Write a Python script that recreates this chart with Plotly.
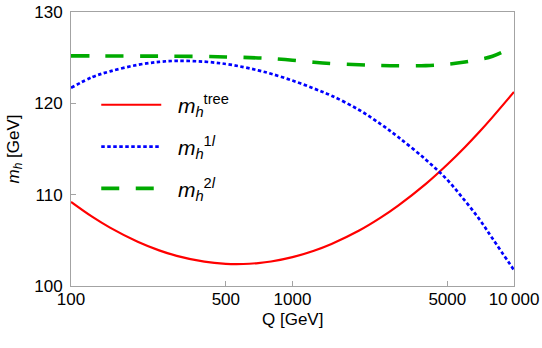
import plotly.graph_objects as go

Q = [100, 125, 150, 200, 250, 300, 400, 500, 600, 700, 800, 1000, 1250, 1500,
     2000, 2500, 3000, 4000, 5000, 6000, 7000, 8000, 10000]
m_tree = [109.21, 107.56, 106.39, 104.84, 103.90, 103.30, 102.66, 102.43, 102.41,
          102.51, 102.68, 103.16, 103.86, 104.60, 106.07, 107.48, 108.80, 111.18,
          113.30, 115.19, 116.91, 118.49, 121.25]
m_1l = [121.70, 122.88, 123.50, 124.21, 124.54, 124.65, 124.56, 124.31, 123.97,
        123.61, 123.24, 122.49, 121.62, 120.84, 119.27, 117.73, 116.31, 113.83,
        111.62, 109.34, 107.27, 105.19, 101.75]
m_2l = [125.20, 125.19, 125.18, 125.17, 125.17, 125.16, 125.13, 125.08, 125.03,
        124.97, 124.91, 124.72, 124.50, 124.36, 124.22, 124.14, 124.11, 124.13,
        124.28, 124.52, 124.82, 125.15, 126.25]

x_tickvals = [100, 500, 1000, 5000, 10000]
x_ticktext = ["100", "500", "1000", "5000", "10\u2009000"]
y_tickvals = [100, 110, 120, 130]
x_title = "Q [GeV]"
y_title = "<i>m</i><sub><i>h</i></sub> [GeV]"

FONT = "Liberation Sans, Arial, sans-serif"
FRAME = "#a3a3a3"
PAD = "\u00a0\u00a0"

fig = go.Figure()
fig.add_trace(go.Scatter(x=Q, y=m_tree, mode="lines", line_shape="spline",
                         name=PAD + "<i>m</i><sub><i>h</i></sub><sup>tree</sup>",
                         line=dict(color="#ff0000", width=2.2), legendgroup="a"))
fig.add_trace(go.Scatter(x=Q, y=m_1l, mode="lines", line_shape="spline",
                         name=PAD + "<i>m</i><sub><i>h</i></sub><sup>1<i>l</i></sup>",
                         line=dict(color="#0000ff", width=2.7, dash="3.5px,2.5px"),
                         legendgroup="b"))
fig.add_trace(go.Scatter(x=Q, y=m_2l, mode="lines", line_shape="spline",
                         name=PAD + "<i>m</i><sub><i>h</i></sub><sup>2<i>l</i></sup>",
                         line=dict(color="#00aa00", width=3.6, dash="18px,16.5px"),
                         legendgroup="c"))

fig.update_layout(
    width=542, height=348,
    margin=dict(l=67, r=28, t=12, b=62),
    paper_bgcolor="white", plot_bgcolor="white",
    font=dict(family=FONT, size=17, color="black"),
    showlegend=True,
    legend=dict(x=0.057, y=0.735, xanchor="left", yanchor="top",
                font=dict(family=FONT, size=21, color="black"),
                itemwidth=60, tracegroupgap=11.5, bgcolor="rgba(0,0,0,0)"),
    annotations=[dict(text=x_title, xref="paper", yref="paper", x=0.5, y=-0.124,
                      xanchor="center", yanchor="middle", showarrow=False,
                      font=dict(family=FONT, size=17, color="black"))],
)
fig.update_xaxes(type="log", range=[2, 4], tickvals=x_tickvals, ticktext=x_ticktext,
                 ticks="inside", ticklen=5, tickcolor=FRAME, tickwidth=1,
                 showline=True, linecolor=FRAME, linewidth=1, mirror=True,
                 showgrid=False, zeroline=False, ticklabelstandoff=-2, automargin=False)
fig.update_yaxes(range=[100, 130], tickvals=y_tickvals,
                 ticks="inside", ticklen=5, tickcolor=FRAME, tickwidth=1,
                 showline=True, linecolor=FRAME, linewidth=1, mirror=True,
                 showgrid=False, zeroline=False, ticklabelstandoff=4, automargin="left",
                 title=dict(text=y_title, standoff=10,
                            font=dict(family=FONT, size=17)))

fig.write_html("out.html")
